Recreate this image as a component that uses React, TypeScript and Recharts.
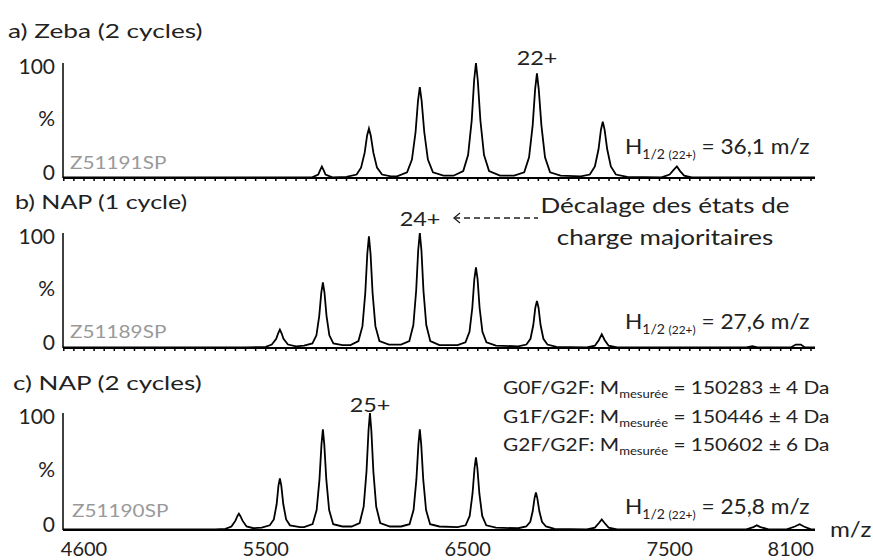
import React from "react";
import { LineChart, Line, XAxis, YAxis } from "recharts";

// m/z window shared by the three stacked spectra
const MZ_DOMAIN: [number, number] = [4496, 8220];
const MZ_LABELS = [4600, 5500, 6500, 7500, 8100];
const PCT_TICKS = [0, 50, 100];
const MINOR_TICKS = [
  4500, 4550, 4600, 4650, 4700, 4750, 4800, 4850, 4900, 4950, 5000, 5050, 5100, 5150, 5200,
  5250, 5300, 5350, 5400, 5450, 5500, 5550, 5600, 5650, 5700, 5750, 5800, 5850, 5900, 5950,
  6000, 6050, 6100, 6150, 6200, 6250, 6300, 6350, 6400, 6450, 6500, 6550, 6600, 6650, 6700,
  6750, 6800, 6850, 6900, 6950, 7000, 7050, 7100, 7150, 7200, 7250, 7300, 7350, 7400, 7450,
  7500, 7550, 7600, 7650, 7700, 7750, 7800, 7850, 7900, 7950, 8000, 8050, 8100, 8150, 8200,
];

// a) Zeba (2 cycles) — [m/z, %]
const zebaPoints: [number, number][] = [
  [4496, 0.5], [5600, 0.5],
  [5730, 0.5], [5760, 3], [5770, 7], [5778, 10], [5786, 7], [5796, 3], [5830, 0.5],
  [5900, 1], [5950, 3], [5972, 9], [5990, 22], [6002, 37], [6011, 43], [6020, 37], [6033, 22], [6051, 9], [6076, 3], [6120, 1.5],
  [6150, 1.5], [6200, 5], [6224, 16], [6242, 40], [6254, 67], [6263, 79], [6272, 67], [6285, 40], [6303, 16], [6328, 5], [6380, 2],
  [6430, 2], [6478, 6], [6502, 20], [6520, 50], [6532, 85], [6541, 100], [6550, 85], [6563, 50], [6581, 20], [6606, 6], [6660, 2],
  [6730, 2], [6780, 5], [6804, 18], [6822, 46], [6834, 77], [6843, 91], [6852, 77], [6865, 46], [6883, 18], [6908, 5], [6960, 2],
  [7060, 1.5], [7105, 3], [7130, 10], [7148, 25], [7160, 42], [7169, 49], [7178, 42], [7191, 25], [7209, 10], [7234, 3], [7290, 1],
  [7460, 0.5], [7500, 3], [7520, 7], [7536, 10], [7552, 6], [7572, 2], [7610, 0.5],
  [8220, 0.5],
];

// b) NAP (1 cycle)
const nap1Points: [number, number][] = [
  [4496, 0.5], [5400, 0.5],
  [5500, 1], [5530, 3], [5552, 8], [5562, 13], [5570, 16], [5578, 13], [5588, 8], [5610, 3], [5650, 1.5],
  [5690, 2], [5731, 4], [5751, 11], [5765, 28], [5775, 48], [5783, 57], [5791, 48], [5801, 28], [5815, 11], [5835, 4], [5880, 2.5],
  [5920, 2.5], [5959, 6], [5979, 19], [5993, 48], [6003, 82], [6011, 97], [6019, 82], [6029, 48], [6043, 19], [6063, 6], [6110, 3],
  [6170, 3], [6211, 6], [6231, 20], [6245, 50], [6255, 85], [6263, 100], [6271, 85], [6281, 50], [6295, 20], [6315, 6], [6360, 2.5],
  [6450, 2.5], [6489, 5], [6509, 14], [6523, 35], [6533, 60], [6541, 70], [6549, 60], [6559, 35], [6573, 14], [6593, 5], [6640, 2],
  [6750, 1.5], [6791, 3], [6811, 8], [6825, 20], [6835, 35], [6843, 41], [6851, 35], [6861, 20], [6875, 8], [6895, 3], [6940, 1],
  [7090, 0.5], [7130, 2], [7150, 7], [7164, 12], [7178, 7], [7198, 2], [7240, 0.5],
  [7880, 0.5], [7910, 1.5], [7935, 0.5],
  [8100, 0.5], [8125, 3], [8150, 3], [8170, 0.5], [8220, 0.5],
];

// c) NAP (2 cycles)
const nap2Points: [number, number][] = [
  [4496, 0.5], [5250, 0.5],
  [5300, 1], [5330, 3], [5350, 8], [5360, 12], [5367, 14], [5374, 12], [5385, 8], [5405, 3], [5440, 1.5],
  [5480, 2], [5520, 4], [5540, 9], [5554, 22], [5563, 38], [5570, 44], [5577, 38], [5587, 22], [5601, 9], [5620, 4], [5670, 2.5],
  [5690, 2.5], [5732, 5], [5752, 17], [5766, 43], [5776, 73], [5783, 86], [5790, 73], [5800, 43], [5814, 17], [5834, 5], [5880, 3],
  [5925, 3], [5965, 6], [5985, 20], [5999, 50], [6009, 85], [6016, 100], [6023, 85], [6033, 50], [6047, 20], [6067, 6], [6115, 3],
  [6170, 3], [6212, 5], [6232, 17], [6246, 43], [6256, 73], [6263, 86], [6270, 73], [6280, 43], [6294, 17], [6314, 5], [6360, 3],
  [6450, 2.5], [6490, 4], [6510, 12], [6524, 31], [6534, 53], [6541, 62], [6548, 53], [6558, 31], [6572, 12], [6592, 4], [6640, 2],
  [6750, 1.5], [6790, 3], [6810, 7], [6822, 16], [6831, 27], [6838, 32], [6845, 27], [6855, 16], [6868, 7], [6888, 3], [6930, 1],
  [7090, 0.5], [7130, 2], [7150, 6], [7164, 9], [7178, 6], [7198, 2], [7240, 0.5],
  [7880, 0.5], [7915, 2.5], [7932, 4], [7950, 2.5], [7990, 0.5],
  [8080, 0.5], [8120, 3], [8144, 5], [8165, 3], [8200, 0.5], [8220, 0.5],
];

const FONT = "Lato, 'Noto Sans', sans-serif";
const INK = "#222";

const toRows = (pts: [number, number][]) => pts.map(([mz, pct]) => ({ mz, pct }));

// y labels sit a little above their tick (the "0" rests on the baseline)
const PCT_DY: Record<number, number> = { 0: -7, 50: -3, 100: 2 };

function PctTick(props: any) {
  const v = props.payload.value;
  return (
    <text
      x={props.x}
      y={props.y + (PCT_DY[v] ?? 0)}
      textAnchor="end"
      dominantBaseline="central"
      fontFamily={FONT}
      fontSize={21}
      fill={INK}
    >
      {v === 50 ? "%" : String(v)}
    </text>
  );
}

function MzTick(props: any) {
  return (
    <text
      x={props.x}
      y={props.y + 18}
      textAnchor="middle"
      dominantBaseline="central"
      fontFamily={FONT}
      fontSize={20}
      fill={INK}
    >
      {props.payload.value}
    </text>
  );
}

const NoTick = () => <g />;

function Spectrum({ points, top, plotHeight, labelled }: any) {
  const axisH = labelled ? 30 : 6;
  const height = 10 + plotHeight + axisH;
  return (
    <div style={{ position: "absolute", left: 0, top, width: 873, height }}>
      <LineChart
        width={873}
        height={height}
        data={toRows(points)}
        margin={{ top: 10, right: 58, bottom: 0, left: 0 }}
      >
        <XAxis
          dataKey="mz"
          type="number"
          domain={MZ_DOMAIN}
          allowDataOverflow
          height={axisH}
          ticks={labelled ? MZ_LABELS : MINOR_TICKS}
          interval={0}
          axisLine={{ stroke: "#000", strokeWidth: 2 }}
          tickLine={labelled ? false : { stroke: "#000", strokeWidth: 1.5 }}
          tickSize={labelled ? 0 : 3}
          tickMargin={0}
          tick={labelled ? MzTick : NoTick}
        />
        <YAxis
          type="number"
          domain={[0, 100]}
          allowDataOverflow
          ticks={PCT_TICKS}
          interval={0}
          width={63}
          axisLine={{ stroke: "#000", strokeWidth: 1.5 }}
          tickLine={false}
          tick={PctTick}
        />
        <Line
          dataKey="pct"
          type="linear"
          stroke="#000"
          strokeWidth={1.8}
          dot={false}
          isAnimationActive={false}
        />
      </LineChart>
    </div>
  );
}

// the source picture is stretched sideways, so text gets a horizontal scale
const txt = (
  left: number,
  top: number,
  size: number,
  sx: number,
  centered = false,
  extra: React.CSSProperties = {}
): React.CSSProperties => ({
  position: "absolute",
  left,
  top,
  fontFamily: FONT,
  fontSize: size,
  color: INK,
  whiteSpace: "nowrap",
  lineHeight: 1,
  transformOrigin: centered ? "center center" : "left center",
  transform: `${centered ? "translate(-50%,-50%)" : "translateY(-50%)"} scaleX(${sx})`,
  ...extra,
});

function HalfWidth({ top, value }: { top: number; value: string }) {
  return (
    <div style={txt(625, top, 21, 1.08)}>
      H
      <span style={{ fontSize: 13, position: "relative", top: 5 }}>
        1/2 <span style={{ fontSize: 11 }}>(22+)</span>
      </span>{" "}
      = {value} m/z
    </div>
  );
}

function Mass({ top, label, value }: { top: number; label: string; value: string }) {
  return (
    <div style={txt(503, top, 17.5, 1.19)}>
      {label}: M
      <span style={{ fontSize: 11, position: "relative", top: 4 }}>mesurée</span> = {value}
    </div>
  );
}

const Grey = ({ left, top, text }: { left: number; top: number; text: string }) => (
  <div style={txt(left, top, 17, 1.22, false, { color: "#999" })}>{text}</div>
);

export default function App() {
  return (
    <div
      style={{
        position: "absolute",
        left: 0,
        top: 0,
        width: 873,
        height: 560,
        background: "#fff",
        overflow: "hidden",
      }}
    >
      <Spectrum points={zebaPoints} top={53} plotHeight={115} />
      <Spectrum points={nap1Points} top={223} plotHeight={115} />
      <Spectrum points={nap2Points} top={403} plotHeight={117} labelled />

      {/* panel a */}
      <div style={txt(8, 30, 20, 1.31)}>a) Zeba (2 cycles)</div>
      <div style={txt(537, 57, 20, 1.17, true)}>22+</div>
      <HalfWidth top={145} value="36,1" />
      <Grey left={70} top={162} text="Z51191SP" />

      {/* panel b */}
      <div style={txt(15, 201, 20, 1.25)}>b) NAP (1 cycle)</div>
      <div style={txt(420, 218, 20, 1.17, true)}>24+</div>
      <svg style={{ position: "absolute", left: 450, top: 210 }} width={90} height={16}>
        <polyline points="10,3 4,8 10,13" fill="none" stroke={INK} strokeWidth={1.3} />
        <line x1={4} y1={8} x2={88} y2={8} stroke={INK} strokeWidth={1.3} strokeDasharray="6 4" />
      </svg>
      <div
        style={txt(665, 221, 20.5, 1.27, true, {
          lineHeight: "32px",
          textAlign: "center",
        })}
      >
        Décalage des états de
        <br />
        charge majoritaires
      </div>
      <HalfWidth top={320} value="27,6" />
      <Grey left={70} top={331} text="Z51189SP" />

      {/* panel c */}
      <div style={txt(13, 382, 20, 1.3)}>c) NAP (2 cycles)</div>
      <div style={txt(370, 404, 20, 1.17, true)}>25+</div>
      <Mass top={388} label="G0F/G2F" value="150283 ± 4 Da" />
      <Mass top={417} label="G1F/G2F" value="150446 ± 4 Da" />
      <Mass top={445} label="G2F/G2F" value="150602 ± 6 Da" />
      <HalfWidth top={505} value="25,8" />
      <Grey left={72} top={510} text="Z51190SP" />
      <div style={txt(830, 528, 21, 1.15)}>m/z</div>
    </div>
  );
}
